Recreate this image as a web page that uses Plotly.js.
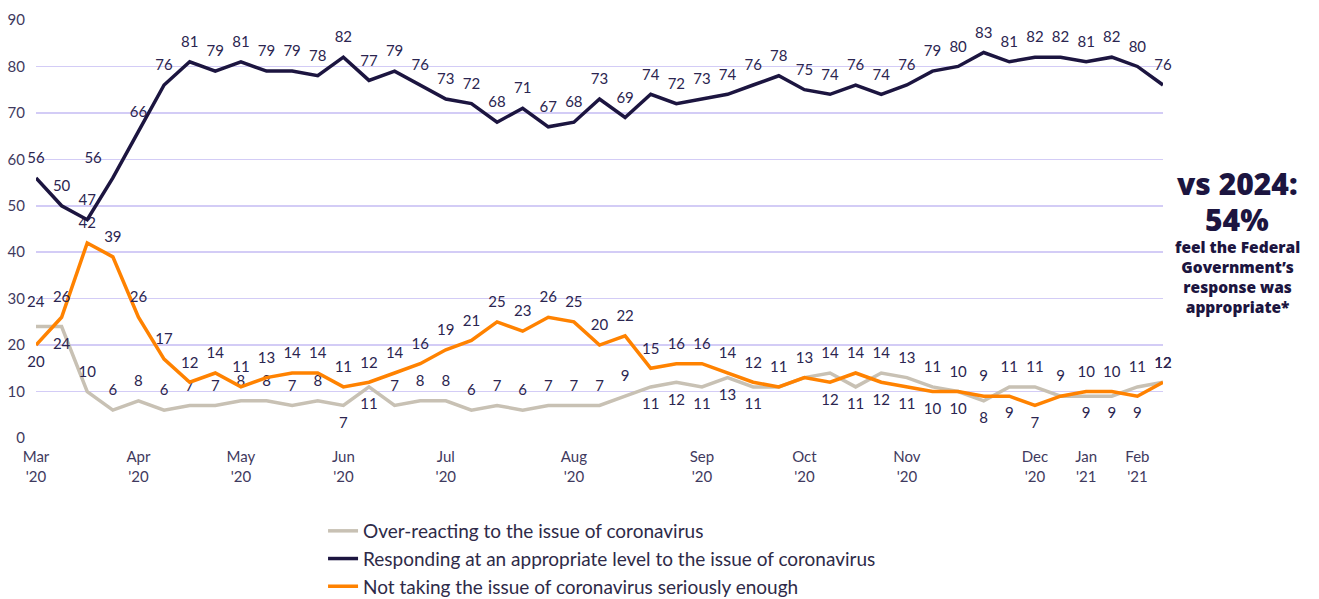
<!DOCTYPE html>
<html>
<head>
<meta charset="utf-8">
<script src="https://cdn.plot.ly/plotly-3.0.1.min.js"></script>
<style>html,body{margin:0;padding:0;background:#fff}#chart{width:1319px;height:599px}</style>
</head>
<body>
<div id="chart"></div>
<script>
// Survey waves, Mar 2020 – Feb 2021 (one point per wave)
const wave = [1,2,3,4,5,6,7,8,9,10,11,12,13,14,15,16,17,18,19,20,21,22,23,24,25,26,27,28,29,30,31,32,33,34,35,36,37,38,39,40,41,42,43,44,45];
const monthWave = [1,5,9,13,17,22,27,31,35,40,42,44];
const monthText = ["Mar<br>'20","Apr<br>'20","May<br>'20","Jun<br>'20","Jul<br>'20","Aug<br>'20","Sep<br>'20","Oct<br>'20","Nov<br>'20","Dec<br>'20","Jan<br>'21","Feb<br>'21"];

const overReacting = [24,24,10,6,8,6,7,7,8,8,7,8,7,11,7,8,8,6,7,6,7,7,7,9,11,12,11,13,11,11,13,14,11,14,13,11,10,8,11,11,9,9,9,11,12];
const appropriate  = [56,50,47,56,66,76,81,79,81,79,79,78,82,77,79,76,73,72,68,71,67,68,73,69,74,72,73,74,76,78,75,74,76,74,76,79,80,83,81,82,82,81,82,80,76];
const notSerious   = [20,26,42,39,26,17,12,14,11,13,14,14,11,12,14,16,19,21,25,23,26,25,20,22,15,16,16,14,12,11,13,12,14,12,11,10,10,9,9,7,9,10,10,9,12];

const names = ["Over-reacting to the issue of coronavirus",
               "Responding at an appropriate level to the issue of coronavirus",
               "Not taking the issue of coronavirus seriously enough"];

// label placement per point: t = above, b = below, l = above-left, - = none (shared label / placed by hand)
const grayPos   = ["-","b","tttttttttt","bb","tttttttttt","bbbbb","--","tbtttt","btt","-","bb","tt"].join("");
const orangePos = ["b","t".repeat(30),"btbbbbtbbtttbt"].join("");
const darkPos   = ["ttt","l","t".repeat(41)].join("");

const INK = "#2b2550";
const FONT = "Lato, 'Open Sans', sans-serif";
const BOLD = "'Open Sans', sans-serif";
const POS = {t: "top center", b: "bottom center", l: "top left", "-": "top center"};

function line(y, name, color, pos){
  // transparent markers only push the value labels a bit further off the line
  return {x: wave, y: y, name: name, type: "scatter", mode: "lines+markers+text",
    line: {color: color, width: 3.5}, marker: {size: 16, color: "rgba(0,0,0,0)"},
    text: y.map((v,i)=>pos[i]==="-" ? "" : String(v)),
    textposition: y.map((v,i)=>POS[pos[i]]),
    textfont: {family: FONT, size: 15, color: INK}, cliponaxis: false, hoverinfo: "skip"};
}

const traces = [
  line(overReacting, names[0], "#c8c1b4", grayPos),
  line(notSerious, names[2], "#ff8200", orangePos),
  line(appropriate, names[1], "#1c1540", darkPos)
];
traces[0].legendrank = 1; traces[2].legendrank = 2; traces[1].legendrank = 3;

const layout = {
  width: 1319, height: 599,
  margin: {l: 36, r: 156, t: 20, b: 161, pad: 0, autoexpand: false},
  paper_bgcolor: "#fff", plot_bgcolor: "#fff",
  font: {family: FONT, color: INK},
  showlegend: true,
  legend: {orientation: "v", x: 0.2547, xanchor: "left", y: -0.177, yanchor: "top",
    font: {family: FONT, size: 19, color: "#2e2a48"}, itemwidth: 30, bgcolor: "rgba(0,0,0,0)"},
  xaxis: {range: [1, 45], tickmode: "array", tickvals: monthWave, ticktext: monthText,
    showgrid: false, zeroline: false, showline: false, ticks: "",
    tickfont: {family: FONT, size: 15, color: "#3f3a5e"}, ticklabelstandoff: 8},
  yaxis: {range: [0, 90], dtick: 10, showgrid: true, gridcolor: "#d3ccf6", gridwidth: 1.5,
    zeroline: false, showline: false, ticks: "",
    tickfont: {family: FONT, size: 15, color: "#3f3a5e"}, ticklabelstandoff: 10},
  annotations: [
    // first over-reacting label sits a little higher, next to the 30 tick
    {x: wave[0], y: overReacting[0], text: String(overReacting[0]), showarrow: false,
      yshift: 26, font: {family: FONT, size: 15, color: INK}},
    {xref: "paper", yref: "paper", x: 1.0657, y: 0.609, xanchor: "center", yanchor: "middle",
      text: "vs 2024:", showarrow: false,
      font: {family: BOLD, size: 30, color: "#1c1540", weight: 800}},
    {xref: "paper", yref: "paper", x: 1.0657, y: 0.522, xanchor: "center", yanchor: "middle",
      text: "54%", showarrow: false,
      font: {family: BOLD, size: 30, color: "#1c1540", weight: 800}},
    {xref: "paper", yref: "paper", x: 1.0657, y: 0.385, xanchor: "center", yanchor: "middle",
      text: "feel the Federal<br>Government’s<br>response was<br>appropriate*", showarrow: false,
      font: {family: BOLD, size: 15.5, color: "#1c1540", weight: 800}}
  ]
};

Plotly.newPlot("chart", traces, layout, {displayModeBar: false, staticPlot: true});
</script>
</body>
</html>
